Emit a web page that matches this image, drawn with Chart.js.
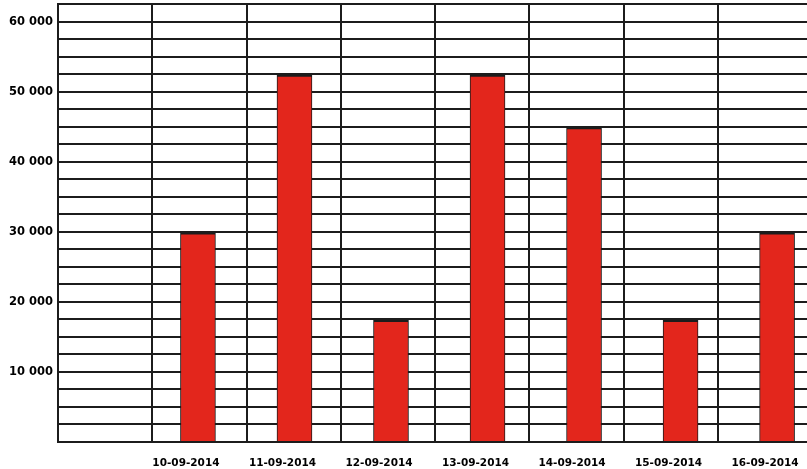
<!DOCTYPE html>
<html>
<head>
<meta charset="utf-8">
<script src="https://cdn.jsdelivr.net/npm/chart.js@4/dist/chart.umd.min.js"></script>
<style>
  html, body { margin: 0; padding: 0; background: #ffffff; overflow: hidden; }
  #wrap { width: 807px; height: 469px; }
</style>
</head>
<body>
<div id="wrap"><canvas id="barChart"></canvas></div>
<script>
// Data
const dates = ['10-09-2014', '11-09-2014', '12-09-2014', '13-09-2014', '14-09-2014', '15-09-2014', '16-09-2014'];
const amounts = [30000, 52500, 17500, 52500, 45000, 17500, 30000];
const yTicks = [10000, 20000, 30000, 40000, 50000, 60000];
const columnLines = [0, 1, 2, 3, 4, 5, 6, 7];

// Format "10 000"
function formatAmount(v) {
    return String(v).replace(/\B(?=(\d{3})+(?!\d))/g, ' ');
}

const ctx = document.getElementById('barChart');

new Chart(ctx, {
    type: 'bar',
    data: {
        datasets: [{
            data: amounts.map((v, i) => ({ x: i, y: v })),
            backgroundColor: '#e3261c',
            borderColor: '#1c1c1c',
            borderWidth: { top: 3, left: 1, right: 1, bottom: 0 },
            borderSkipped: false,
            barThickness: 35
        }]
    },
    options: {
        responsive: true,
        maintainAspectRatio: false,
        animation: false,
        layout: { padding: { top: 4, right: 0, left: 0, bottom: 0 } },
        plugins: {
            legend: { display: false },
            tooltip: { enabled: false }
        },
        scales: {
            x: {
                type: 'linear',
                position: 'bottom',
                offset: false,
                min: -1.45,
                max: 6.31,
                grid: { display: false, offset: false },
                border: { display: false },
                afterBuildTicks: function(scale) {
                    scale.ticks = dates.map((d, i) => ({ value: i }));
                },
                afterFit: function(scale) {
                    scale.height = 27;
                    scale.paddingLeft = 0;
                    scale.paddingRight = 0;
                },
                ticks: {
                    autoSkip: false,
                    maxRotation: 0,
                    labelOffset: -12,
                    padding: 7,
                    color: '#000000',
                    font: { family: 'DejaVu Sans', size: 10.5, weight: 'bold' },
                    callback: function(value) {
                        return dates[value] || '';
                    }
                }
            },
            xg: {
                type: 'linear',
                position: 'top',
                offset: false,
                min: 0,
                max: 7.943,
                afterBuildTicks: function(scale) {
                    scale.ticks = columnLines.map(v => ({ value: v }));
                },
                afterFit: function(scale) {
                    scale.height = 0;
                    scale.paddingLeft = 0;
                    scale.paddingRight = 0;
                },
                grid: { color: '#1c1c1c', lineWidth: 2, drawTicks: false, offset: false },
                border: { display: false },
                ticks: { display: false }
            },
            y: {
                min: 0,
                max: 62500,
                afterFit: function(scale) {
                    scale.width = 58;
                    scale.paddingTop = 0;
                    scale.paddingBottom = 0;
                },
                grid: { color: '#1c1c1c', lineWidth: 2, drawTicks: false },
                border: { color: '#1c1c1c', width: 2 },
                ticks: {
                    stepSize: 2500,
                    autoSkip: false,
                    padding: 5,
                    color: '#000000',
                    font: { family: 'DejaVu Sans', size: 11.5, weight: 'bold' },
                    callback: function(value) {
                        return yTicks.includes(value) ? formatAmount(value) : '';
                    }
                }
            }
        }
    }
});
</script>
</body>
</html>
